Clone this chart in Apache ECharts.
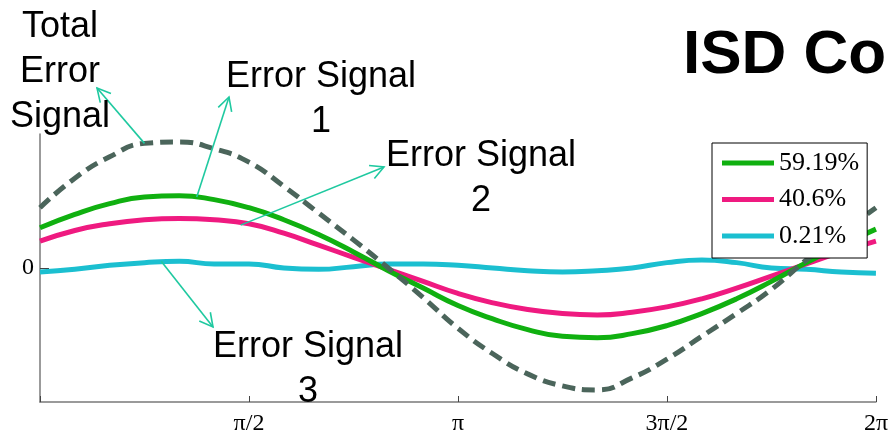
<!DOCTYPE html>
<html><head><meta charset="utf-8">
<script src="https://cdn.jsdelivr.net/npm/echarts@6/dist/echarts.min.js"></script>
<style>html,body{margin:0;padding:0;background:#fff}#c{width:891px;height:439px}</style>
</head><body><div id="c"></div>
<script>
// x positions in units of pi
const xPi = [0,1/12,2/12,3/12,4/12,5/12,6/12,7/12,8/12,9/12,10/12,11/12,12/12,13/12,14/12,15/12,16/12,17/12,18/12,19/12,20/12,21/12,22/12,23/12,24/12];
const xTickLabels = ['', 'π/2', 'π', '3π/2', '2π'];
const seriesNames = ['59.19%', '40.6%', '0.21%'];
const signal1 = [0.30,0.40,0.48,0.53,0.54,0.51,0.45,0.36,0.25,0.12,-0.02,-0.15,-0.28,-0.38,-0.46,-0.51,-0.52,-0.49,-0.43,-0.34,-0.23,-0.10,0.04,0.17,0.29];
const signal2 = [0.20,0.28,0.33,0.36,0.37,0.36,0.33,0.26,0.17,0.08,-0.01,-0.10,-0.19,-0.26,-0.31,-0.34,-0.35,-0.33,-0.29,-0.23,-0.15,-0.06,0.03,0.12,0.20];
const signal3 = [-0.03,-0.01,0.02,0.04,0.05,0.03,0.03,0.00,-0.01,0.01,0.03,0.03,0.02,0.00,-0.02,-0.03,-0.02,0.00,0.04,0.06,0.04,0.00,-0.01,-0.03,-0.04];
const totalSignal = [0.45,0.67,0.83,0.93,0.94,0.89,0.79,0.61,0.41,0.21,0.00,-0.22,-0.45,-0.64,-0.79,-0.88,-0.91,-0.82,-0.68,-0.51,-0.34,-0.16,0.06,0.26,0.45];

const annotations = [
  { text: 'Total\nError\nSignal', x: 60, y: 72, tail: [0.25, 0.93], tip: [97, 88] },
  { text: 'Error Signal\n1', x: 321, y: 100, tail: [0.375, 0.53], tip: [229, 97] },
  { text: 'Error Signal\n2', x: 481, y: 179, tail: [0.48, 0.32], tip: [384, 167] },
  { text: 'Error Signal\n3', x: 308, y: 370, tail: [0.29, 0.05], tip: [213, 327] }
];

const pair = arr => arr.map((v, i) => [xPi[i], v]);
const C_GREEN = '#10b010', C_PINK = '#ef1a80', C_CYAN = '#1bbfd0', C_DASH = '#4b655b', C_ARROW = '#1fc9a0';

const chart = echarts.init(document.getElementById('c'), null, { renderer: 'canvas' });
chart.setOption({
  animation: false,
  backgroundColor: '#fff',
  grid: { left: 40, right: 15, top: 134, bottom: 37, containLabel: false },
  legend: {
    orient: 'vertical', left: 712, top: 143,
    data: seriesNames,
    icon: 'rect', itemWidth: 52, itemHeight: 5, itemGap: 10.5,
    padding: [7, 8, 9, 10],
    backgroundColor: '#fff', borderColor: '#000', borderWidth: 1, borderRadius: 0,
    textStyle: { fontFamily: 'Liberation Serif', fontSize: 26, color: '#000', padding: [0,0,0,0] }
  },
  xAxis: {
    type: 'value', min: 0, max: 2, interval: 0.5,
    axisLine: { show: true, onZero: false, lineStyle: { color: '#7a7a7a', width: 1.5 } },
    axisTick: { show: true, inside: true, length: 6, lineStyle: { color: '#444', width: 1 } },
    axisLabel: {
      fontFamily: 'Liberation Serif', fontSize: 24, color: '#000', margin: 10,
      formatter: v => xTickLabels[Math.round(v / 0.5)]
    },
    splitLine: { show: false }
  },
  yAxis: {
    type: 'value', min: -1, max: 1, interval: 1,
    axisLine: { show: true, onZero: false, lineStyle: { color: '#7a7a7a', width: 1.5 } },
    axisTick: { show: true, inside: true, length: 9, customValues: [0], lineStyle: { color: '#444', width: 1 } },
    axisLabel: {
      fontFamily: 'Liberation Serif', fontSize: 24, color: '#000', margin: 6,
      customValues: [0],
      formatter: v => (Math.abs(v) < 1e-9 ? '0' : '')
    },
    splitLine: { show: false }
  },
  series: [
    { name: seriesNames[2], type: 'line', data: pair(signal3), smooth: true, showSymbol: false,
      lineStyle: { color: C_CYAN, width: 5 }, itemStyle: { color: C_CYAN } },
    { name: seriesNames[1], type: 'line', data: pair(signal2), smooth: true, showSymbol: false,
      lineStyle: { color: C_PINK, width: 5 }, itemStyle: { color: C_PINK } },
    { name: seriesNames[0], type: 'line', data: pair(signal1), smooth: true, showSymbol: false,
      lineStyle: { color: C_GREEN, width: 5 }, itemStyle: { color: C_GREEN } },
    { name: 'Total', type: 'line', data: pair(totalSignal), smooth: true, showSymbol: false,
      lineStyle: { color: C_DASH, width: 5, type: [13, 7] }, itemStyle: { color: C_DASH } }
  ]
});

const graphics = [];
graphics.push({
  type: 'text', left: 683, top: 25, z: 100,
  style: { text: 'ISD Co', fontFamily: 'Liberation Sans', fontWeight: 'bold', fontSize: 62, fill: '#000' }
});
annotations.forEach(a => {
  graphics.push({
    type: 'text', x: a.x, y: a.y, z: 100,
    style: { text: a.text, fontFamily: 'Liberation Sans', fontSize: 36, lineHeight: 45, fill: '#000',
      align: 'center', verticalAlign: 'middle' }
  });
  const t = chart.convertToPixel({ gridIndex: 0 }, a.tail);
  const tip = a.tip;
  const dx = tip[0] - t[0], dy = tip[1] - t[1];
  const L = Math.hypot(dx, dy), ux = dx / L, uy = dy / L;
  const ang = 28 * Math.PI / 180, hl = 15;
  const rot = (s) => [ux * Math.cos(s) - uy * Math.sin(s), ux * Math.sin(s) + uy * Math.cos(s)];
  const r1 = rot(ang), r2 = rot(-ang);
  graphics.push({ type: 'line', z: 90, shape: { x1: t[0], y1: t[1], x2: tip[0], y2: tip[1] },
    style: { stroke: C_ARROW, lineWidth: 1.6 } });
  graphics.push({ type: 'polyline', z: 90,
    shape: { points: [[tip[0] - r1[0] * hl, tip[1] - r1[1] * hl], tip, [tip[0] - r2[0] * hl, tip[1] - r2[1] * hl]] },
    style: { stroke: C_ARROW, lineWidth: 1.6, fill: null } });
});
chart.setOption({ graphic: graphics });
</script>
</body></html>
